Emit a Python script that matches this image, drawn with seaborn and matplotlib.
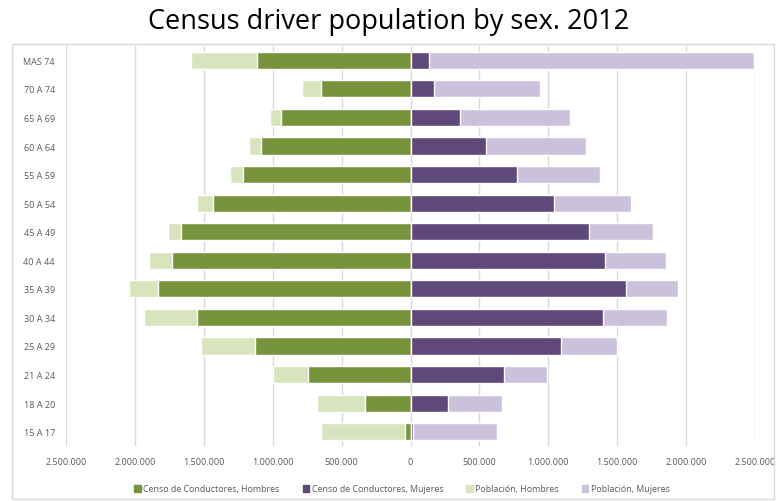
import matplotlib
matplotlib.use("Agg")
import matplotlib.pyplot as plt
import seaborn as sns
import pandas as pd
from matplotlib.ticker import FuncFormatter, MultipleLocator
from matplotlib.patches import Rectangle

ages = ["MAS 74", "70 A 74", "65 A 69", "60 A 64", "55 A 59", "50 A 54", "45 A 49",
        "40 A 44", "35 A 39", "30 A 34", "25 A 29", "21 A 24", "18 A 20", "15 A 17"]
census_men = [1116000, 647000, 942000, 1082000, 1217000, 1435000, 1667000,
              1734000, 1831000, 1551000, 1128000, 744000, 333000, 43000]
census_women = [133000, 169000, 362000, 551000, 773000, 1039000, 1295000,
                1413000, 1565000, 1396000, 1092000, 676000, 271000, 20000]
pop_men = [1590000, 785000, 1022000, 1169000, 1309000, 1551000, 1759000,
           1896000, 2041000, 1937000, 1517000, 995000, 681000, 652000]
pop_women = [2490000, 942000, 1154000, 1270000, 1377000, 1599000, 1759000,
             1853000, 1944000, 1865000, 1498000, 990000, 664000, 628000]
legend_labels = ["Censo de Conductores, Hombres", "Censo de Conductores, Mujeres",
                 "Población, Hombres", "Población, Mujeres"]

df = pd.DataFrame({"age": ages,
                   "cm": [-v for v in census_men], "cw": census_women,
                   "pm": [-v for v in pop_men], "pw": pop_women})

c_dark_g = "#77933C"
c_dark_p = "#5F497A"
c_light_g = "#D7E4BD"
c_light_p = "#CCC1DA"

sns.set_style("white")
plt.rcParams["font.family"] = ["Open Sans", "DejaVu Sans"]

fig = plt.figure(figsize=(7.78, 5.02), dpi=100)
ax = fig.add_axes([66 / 778, 1 - 447 / 502, 689 / 778, 400 / 502])

kw = dict(y="age", order=ages, orient="h", width=0.6, ax=ax, saturation=1, zorder=2)
sns.barplot(data=df, x="pm", color=c_light_g, **kw)
sns.barplot(data=df, x="pw", color=c_light_p, **kw)
sns.barplot(data=df, x="cm", color=c_dark_g, **kw)
sns.barplot(data=df, x="cw", color=c_dark_p, **kw)

ax.set_xlim(-2500000, 2500000)
ax.set_ylim(13.5, -0.5)
ax.xaxis.set_major_locator(MultipleLocator(500000))
ax.xaxis.set_major_formatter(FuncFormatter(lambda v, p: f"{abs(int(round(v))):,}".replace(",", ".")))
ax.grid(axis="x", color="#D9D9D9", lw=1, zorder=0)
ax.grid(axis="y", visible=False)
for s in ax.spines.values():
    s.set_visible(False)
ax.set_xlabel("")
ax.set_ylabel("")
ax.tick_params(axis="both", length=0, labelsize=6.5, labelcolor="#595959")
ax.tick_params(axis="x", pad=8)
ax.tick_params(axis="y", pad=8)

handles = [Rectangle((0, 0), 1, 1, color=c) for c in [c_dark_g, c_dark_p, c_light_g, c_light_p]]
fig.legend(handles, legend_labels, loc="center", bbox_to_anchor=(402 / 778, 1 - 490 / 502),
           ncol=4, frameon=False, fontsize=6.4, handlelength=0.7, handleheight=0.7,
           handletextpad=0.3, columnspacing=2.6, labelcolor="#595959")

fig.text(389 / 778, 1 - 22 / 502, "Census driver population by sex. 2012",
         ha="center", va="center", fontsize=19.5, color="black")

fig.patches.append(Rectangle((12 / 778, 1 - 500 / 502), 762 / 778, 455 / 502,
                             transform=fig.transFigure, fill=False, ec="#D9D9D9", lw=1))

fig.savefig("out.png", dpi=100)
